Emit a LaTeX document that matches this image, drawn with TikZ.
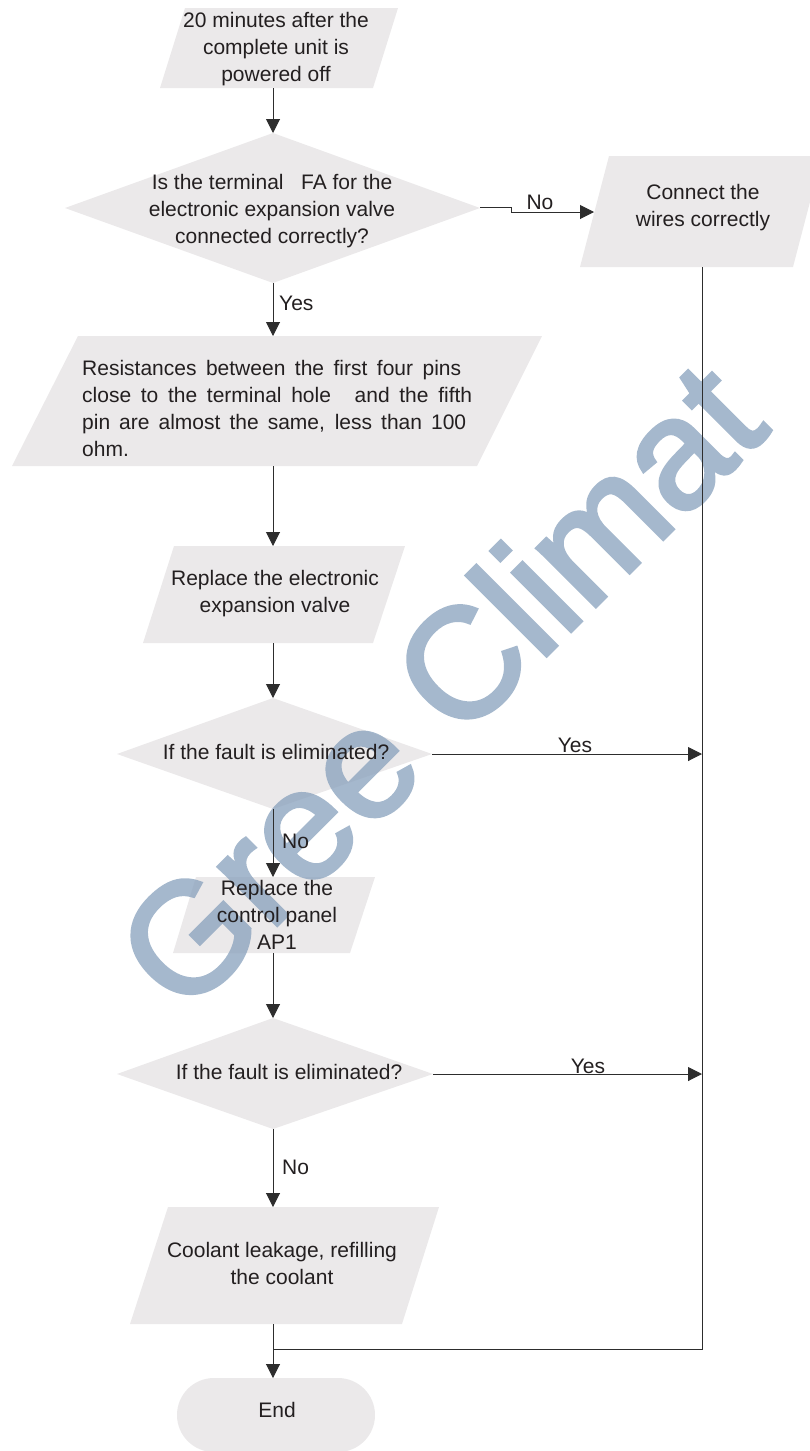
\documentclass[tikz,border=0pt]{standalone}
\usepackage{fontspec}
\setmainfont{Liberation Sans}
\newfontfamily\wmfont[FakeBold=2.5]{Liberation Sans}
\usetikzlibrary{arrows.meta}
\definecolor{boxfill}{RGB}{235,233,234}
\definecolor{txt}{RGB}{35,31,32}
\definecolor{ln}{RGB}{45,45,45}
\definecolor{wm}{RGB}{135,160,188}
\begin{document}
\begin{tikzpicture}[x=1pt,y=-1pt,
  shapefill/.style={fill=boxfill, draw=none},
  lbl/.style={font=\fontsize{21}{27}\selectfont, text=txt, inner sep=0pt, align=center},
  conn/.style={draw=ln, line width=1pt},
  arr/.style={conn, -{Triangle[length=14pt,width=14pt]}},
  wmark/.style={font=\wmfont\fontsize{156}{156}\selectfont, text=wm, rotate=45, anchor=base, inner sep=0pt}
]
\useasboundingbox (0,0) rectangle (809,1451);

% ---- shapes ----
\fill[shapefill] (185,8) -- (398,8) -- (373,88) -- (160,88) -- cycle;
\fill[shapefill] (273,133) -- (480,208) -- (273,283) -- (65,208) -- cycle;
\fill[shapefill] (609,156) -- (822,156) -- (793,267) -- (580,267) -- cycle;
\fill[shapefill] (78,336) -- (542,336) -- (477,466) -- (12,466) -- cycle;
\fill[shapefill] (174,546) -- (405,546) -- (373,643) -- (143,643) -- cycle;
\fill[shapefill] (273,698) -- (432,754) -- (273,809) -- (117,754) -- cycle;
\fill[shapefill] (196,877) -- (375,877) -- (350,953) -- (173,953) -- cycle;
\fill[shapefill] (273,1018) -- (433,1074) -- (273,1129) -- (117,1074) -- cycle;
\fill[shapefill] (168,1207) -- (439,1207) -- (402,1324) -- (130,1324) -- cycle;
\fill[shapefill, rounded corners=36.9pt] (177,1378) rectangle (375,1452);

% ---- watermark ----
\begin{scope}[transparency group, opacity=0.75]
\node[wmark] (wmk) at (478,724) {Gree Climat};
\end{scope}

% ---- texts ----
\node[lbl] (start) at (276,49) {20 minutes after the\\complete unit is\\powered off};
\node[lbl] (q1) at (272,211) {Is the terminal\ \ \ FA for the\\electronic expansion valve\\connected correctly?};
\node[lbl] (fix) at (703,208) {Connect the\\wires correctly};
\node[lbl, anchor=west, align=left] (res) at (82,408) {\makebox[379pt][s]{Resistances between the first four pins}\\\makebox[390pt][s]{close to the terminal hole\hspace{14pt} and the fifth}\\\makebox[384pt][s]{pin are almost the same, less than 100}\\ohm.};
\node[lbl] (p3) at (275,594) {Replace the electronic\\expansion valve};
\node[lbl] (q2) at (276,752) {If the fault is eliminated?};
\node[lbl] (p4) at (277,915) {Replace the\\control panel\\AP1};
\node[lbl] (q3) at (289,1072) {If the fault is eliminated?};
\node[lbl] (p5) at (282,1263) {Coolant leakage, refilling\\the coolant};
\node[lbl] (fin) at (277,1410) {End};

% ---- connector ends ----
\coordinate (startB) at (273,88);
\coordinate (q1T) at (273,133);
\coordinate (q1B) at (273,283);
\coordinate (q1R) at (480,207);
\coordinate (fixL) at (594,212);
\coordinate (fixB) at (702,267);
\coordinate (resT) at (273,336);
\coordinate (resB) at (273,466);
\coordinate (p3T) at (273,546);
\coordinate (p3B) at (273,643);
\coordinate (q2T) at (273,698);
\coordinate (q2R) at (432,754);
\coordinate (q2B) at (273,809);
\coordinate (jn1) at (702,754);
\coordinate (p4T) at (273,877);
\coordinate (p4B) at (273,953);
\coordinate (q3T) at (273,1018);
\coordinate (q3R) at (433,1074);
\coordinate (q3B) at (273,1129);
\coordinate (jn2) at (702,1074);
\coordinate (p5T) at (273,1207);
\coordinate (p5B) at (273,1324);
\coordinate (corner) at (702,1349);
\coordinate (merge) at (273,1349);
\coordinate (finT) at (273,1378);

% ---- connectors ----
\draw[arr] (startB) -- (q1T);
\draw[arr] (q1R) -- ++(31,0) |- (fixL);
\draw[arr] (q1B) -- (resT);
\draw[arr] (resB) -- (p3T);
\draw[arr] (p3B) -- (q2T);
\draw[arr] (q2R) -- (jn1);
\draw[arr] (q2B) -- (p4T);
\draw[arr] (p4B) -- (q3T);
\draw[arr] (q3R) -- (jn2);
\draw[arr] (q3B) -- (p5T);
\draw[conn] (fixB) -- (corner) -- (merge);
\draw[arr] (p5B) -- (finT);

% ---- connector labels ----
\node[lbl] (lno1) at (540,202) {No};
\node[lbl, anchor=west] (lyes1) at (279,303) {Yes};
\node[lbl] (lyes2) at (575,745) {Yes};
\node[lbl, anchor=west] (lno2) at (282,841) {No};
\node[lbl] (lyes3) at (588,1066) {Yes};
\node[lbl, anchor=west] (lno3) at (282,1167) {No};
\end{tikzpicture}
\end{document}
